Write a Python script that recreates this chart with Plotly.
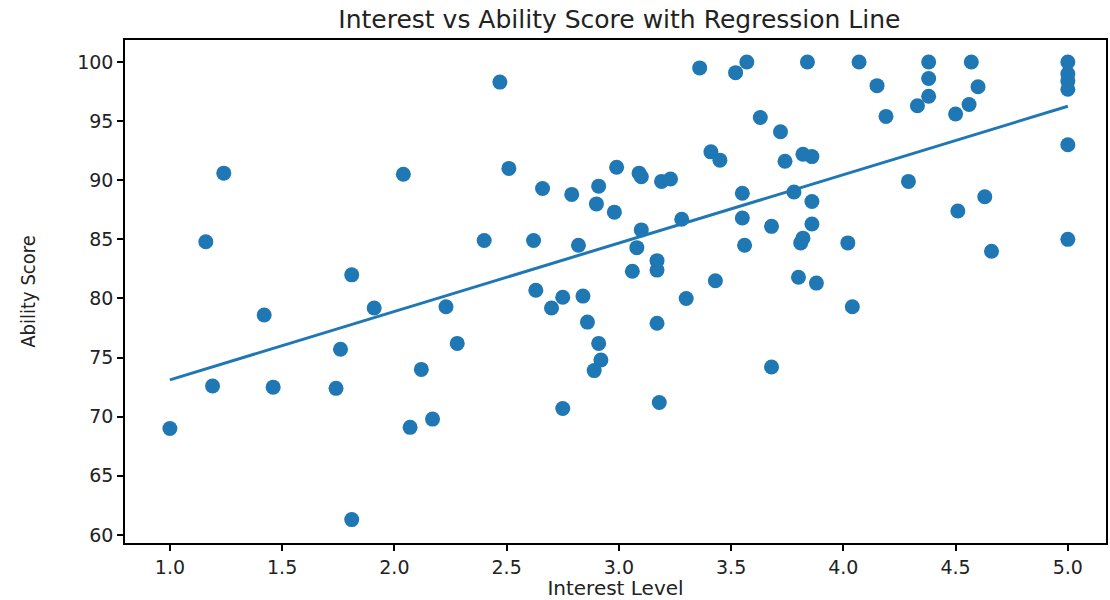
import numpy as np
import plotly.graph_objects as go

# Survey observations: interest level vs. ability score
interest = [
    1.00, 1.16, 1.24, 1.19, 1.42, 1.46, 1.76, 1.74, 1.81, 1.81,
    1.91, 2.04, 2.07, 2.12, 2.17, 2.23, 2.28, 2.40, 2.47, 2.51,
    2.62, 2.63, 2.66, 2.70, 2.75, 2.75, 2.79, 2.82, 2.84, 2.86,
    2.89, 2.90, 2.91, 2.91, 2.92, 2.98, 2.99, 3.06, 3.08, 3.09,
    3.10, 3.10, 3.17, 3.17, 3.17, 3.18, 3.19, 3.23, 3.28, 3.30,
    3.36, 3.41, 3.43, 3.45, 3.52, 3.55, 3.55, 3.56, 3.57, 3.63,
    3.68, 3.68, 3.72, 3.74, 3.78, 3.80, 3.81, 3.82, 3.82, 3.84,
    3.86, 3.86, 3.86, 3.88, 4.02, 4.04, 4.07, 4.15, 4.19, 4.29,
    4.33, 4.38, 4.38, 4.38, 4.50, 4.51, 4.56, 4.57, 4.60, 4.63,
    4.66, 5.00, 5.00, 5.00, 5.00, 5.00, 5.00,
]
ability = [
    69.0, 84.8, 90.6, 72.6, 78.6, 72.5, 75.7, 72.4, 82.0, 61.3,
    79.2, 90.5, 69.1, 74.0, 69.8, 79.3, 76.2, 84.9, 98.3, 91.0,
    84.9, 80.7, 89.3, 79.2, 70.7, 80.1, 88.8, 84.5, 80.2, 78.0,
    73.9, 88.0, 89.5, 76.2, 74.8, 87.3, 91.1, 82.3, 84.3, 90.6,
    90.3, 85.8, 83.2, 82.4, 77.9, 71.2, 89.9, 90.1, 86.7, 80.0,
    99.5, 92.4, 81.5, 91.7, 99.1, 88.9, 86.8, 84.5, 100.0, 95.3,
    74.2, 86.1, 94.1, 91.6, 89.0, 81.8, 84.7, 85.1, 92.2, 100.0,
    92.0, 88.2, 86.3, 81.3, 84.7, 79.3, 100.0, 98.0, 95.4, 89.9,
    96.3, 97.1, 98.6, 100.0, 95.6, 87.4, 96.4, 100.0, 97.9, 88.6,
    84.0, 100.0, 99.0, 98.4, 97.7, 93.0, 85.0,
]

x_ticks = [1.0, 1.5, 2.0, 2.5, 3.0, 3.5, 4.0, 4.5, 5.0]
y_ticks = [60, 65, 70, 75, 80, 85, 90, 95, 100]

x = np.array(interest)
y = np.array(ability)

# Least-squares regression line
slope, intercept = np.polyfit(x, y, 1)
x_line = np.sort(x)
y_line = slope * x_line + intercept

blue = "#1f77b4"
font_family = "DejaVu Sans, Arial, sans-serif"

fig = go.Figure()
fig.add_trace(go.Scatter(
    x=x, y=y, mode="markers",
    marker=dict(color=blue, size=15, line=dict(width=0)),
    showlegend=False,
))
fig.add_trace(go.Scatter(
    x=x_line, y=y_line, mode="lines",
    line=dict(color=blue, width=3),
    showlegend=False,
))

axis_common = dict(
    showline=True, linecolor="black", linewidth=1.5, mirror=True,
    ticks="outside", ticklen=6, tickcolor="black", tickwidth=1.5,
    showgrid=False, zeroline=False,
    tickfont=dict(family=font_family, size=19, color="#222"),
)

fig.update_layout(
    width=1110, height=600,
    margin=dict(l=125, r=2, t=40, b=57),
    paper_bgcolor="white", plot_bgcolor="white",
    title=dict(
        text="Interest vs Ability Score with Regression Line",
        x=0.558, xanchor="center", y=0.968, yanchor="middle",
        font=dict(family=font_family, size=25, color="#222"),
    ),
    xaxis=dict(
        axis_common, range=[0.8, 5.17], tickvals=x_ticks,
        ticktext=[f"{v:.1f}" for v in x_ticks],
        title=dict(text="Interest Level", standoff=4,
                   font=dict(family=font_family, size=20, color="#222")),
    ),
    yaxis=dict(
        axis_common, range=[59.32, 101.86], tickvals=y_ticks,
        title=dict(text="Ability Score", standoff=36,
                   font=dict(family="Liberation Sans Narrow, DejaVu Sans Condensed, Roboto, sans-serif",
                             size=20, color="#222")),
    ),
)

fig.write_html("out.html")
